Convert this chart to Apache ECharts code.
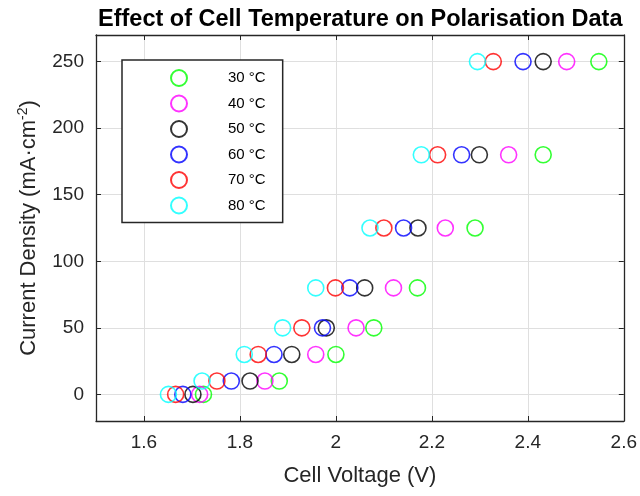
<!DOCTYPE html>
<html>
<head>
<meta charset="utf-8">
<script src="https://cdn.jsdelivr.net/npm/echarts@6/dist/echarts.min.js"></script>
<style>
html,body{margin:0;padding:0;background:#fff;}
#chart{width:640px;height:496px;}
</style>
</head>
<body>
<div id="chart"></div>
<script>
// ---- data ----
const currentDensity = [0, 10, 30, 50, 80, 125, 180, 250];
const temperatures = ['30 °C', '40 °C', '50 °C', '60 °C', '70 °C', '80 °C'];
const v30 = [1.724, 1.882, 2.000, 2.079, 2.170, 2.290, 2.432, 2.548];
const v40 = [1.716, 1.852, 1.958, 2.042, 2.120, 2.228, 2.360, 2.481];
const v50 = [1.702, 1.821, 1.908, 1.980, 2.060, 2.171, 2.299, 2.432];
const v60 = [1.681, 1.782, 1.871, 1.972, 2.029, 2.141, 2.262, 2.390];
const v70 = [1.666, 1.752, 1.838, 1.929, 1.999, 2.100, 2.212, 2.328];
const v80 = [1.651, 1.721, 1.809, 1.889, 1.958, 2.071, 2.178, 2.295];
const xTicks = [1.6, 1.8, 2.0, 2.2, 2.4, 2.6];
const yTicks = [0, 50, 100, 150, 200, 250];

const voltages = [v30, v40, v50, v60, v70, v80];
const colors = ['#00ff00', '#ff00ff', '#000000', '#0000ff', '#ff0000', '#00ffff'];

const FONT = 'Liberation Sans';
const AX = '#262626';
const GRIDC = '#dfdfdf';

function xFmt(v) {
  for (const t of xTicks) if (Math.abs(v - t) < 1e-6) return String(Math.round(t * 10) / 10);
  return '';
}
function yFmt(v) {
  for (const t of yTicks) if (Math.abs(v - t) < 1e-6) return String(t);
  return '';
}

const series = temperatures.map((name, i) => ({
  name: name,
  type: 'scatter',
  symbol: 'circle',
  symbolSize: 16,
  itemStyle: { color: 'rgba(0,0,0,0)', borderColor: colors[i], borderWidth: 1.6 },
  emphasis: { disabled: true },
  data: currentDensity.map((c, j) => [voltages[i][j], c])
}));

const baseX = {
  type: 'value', min: 1.5, max: 2.6, splitNumber: 5,
  axisLine: { show: true, onZero: false, lineStyle: { color: AX, width: 1.3 } },
  axisTick: { show: true, inside: true, length: 5, lineStyle: { color: AX, width: 1 } }
};
const baseY = {
  type: 'value', min: -20, max: 270, splitNumber: 5,
  axisLine: { show: true, onZero: false, lineStyle: { color: AX, width: 1.3 } },
  axisTick: { show: true, inside: true, length: 5, lineStyle: { color: AX, width: 1 } }
};

const option = {
  animation: false,
  backgroundColor: '#ffffff',
  title: {
    text: 'Effect of Cell Temperature on Polarisation Data',
    left: 98,
    top: 4,
    padding: [4, 0, 4, 0],
    textStyle: { fontFamily: FONT, fontWeight: 'bold', fontSize: 23.5, color: '#000' }
  },
  grid: { left: 96, right: 14, top: 35, bottom: 75, containLabel: false },
  legend: {
    orient: 'vertical',
    left: 122, top: 60,
    padding: [9, 17, 8, 48],
    itemGap: 7.5,
    itemWidth: 16, itemHeight: 16,
    icon: 'circle',
    borderColor: AX, borderWidth: 1.5,
    backgroundColor: '#fff',
    data: temperatures,
    formatter: n => '{s|}{t|' + n + '}',
    textStyle: {
      fontFamily: FONT, fontSize: 15, color: '#000',
      rich: { s: { width: 36 }, t: { fontFamily: FONT, fontSize: 15, lineHeight: 16, color: '#000' } }
    }
  },
  xAxis: [
    Object.assign({}, baseX, {
      position: 'bottom',
      name: 'Cell Voltage (V)', nameLocation: 'middle', nameGap: 44,
      nameTextStyle: { fontFamily: FONT, fontSize: 22, color: '#262626' },
      axisLabel: { show: true, margin: 12, fontFamily: FONT, fontSize: 19, color: '#262626', formatter: xFmt },
      splitLine: { show: true, lineStyle: { color: GRIDC, width: 1 } }
    }),
    Object.assign({}, baseX, {
      position: 'top',
      axisLabel: { show: false }, splitLine: { show: false }
    })
  ],
  yAxis: [
    Object.assign({}, baseY, {
      position: 'left',
      name: 'Current Density (mA·cm{sup|-2})', nameLocation: 'middle', nameGap: 54,
      nameTextStyle: {
        fontFamily: FONT, fontSize: 22, color: '#262626',
        rich: { sup: { fontFamily: FONT, fontSize: 14, color: '#262626', padding: [0, 0, 12, 0] } }
      },
      axisLabel: { show: true, margin: 12, fontFamily: FONT, fontSize: 19, color: '#262626', formatter: yFmt },
      splitLine: { show: true, lineStyle: { color: GRIDC, width: 1 } }
    }),
    Object.assign({}, baseY, {
      position: 'right',
      axisLabel: { show: false }, splitLine: { show: false }
    })
  ],
  series: series
};

const chart = echarts.init(document.getElementById('chart'), null, { renderer: 'canvas' });
chart.setOption(option);
</script>
</body>
</html>
